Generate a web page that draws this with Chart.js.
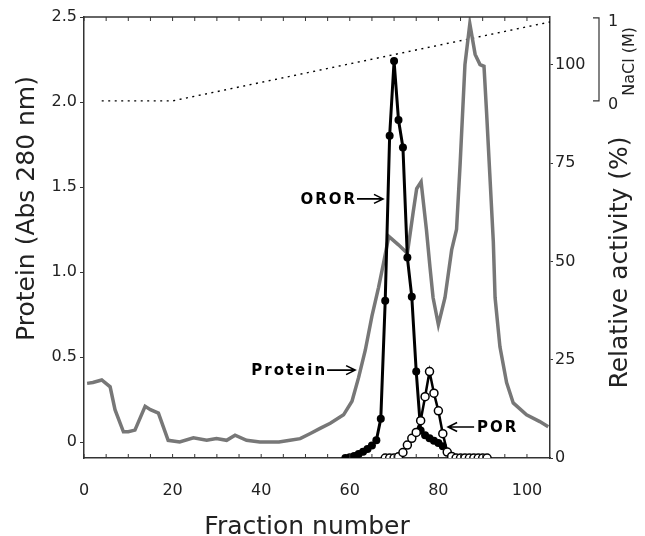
<!DOCTYPE html>
<html>
<head>
<meta charset="utf-8">
<script src="https://cdn.jsdelivr.net/npm/chart.js@4/dist/chart.umd.min.js"></script>
<style>
html, body { margin: 0; padding: 0; background: #fff; }
</style>
</head>
<body>
<canvas id="elutionChart" width="645" height="536"></canvas>
<script>
// tick labels
const fractionTicks = [0, 20, 40, 60, 80, 100];
const proteinTicks = [0, 0.5, 1.0, 1.5, 2.0, 2.5];
const activityTicks = [0, 25, 50, 75, 100];

// protein (Abs 280 nm)
const proteinFraction = [0.7, 2, 4, 5.9, 7, 8.9, 10, 11.5, 13.8, 15, 16.8, 19, 21.6, 24.7, 27.7, 29.9, 32.2, 34.1, 36.7, 39.7,
    44, 46.5, 48.8, 51.1, 53.3, 55.6, 58.6, 60.5, 62, 63.5, 65, 66.5, 67.6, 68.8, 71, 73, 74.3, 75.1, 76.1, 77.3,
    78.1, 78.8, 80, 81.5, 83, 84.1, 84.9, 86, 87.1, 88.3, 89.4, 90.3, 90.9, 91.6, 92.4, 92.8, 93.9, 95.4, 96.9, 99.9,
    102.9, 104.8];
const proteinAbs = [0.345, 0.35, 0.365, 0.325, 0.19, 0.06, 0.06, 0.07, 0.21, 0.19, 0.17, 0.01, 0, 0.025, 0.01, 0.02, 0.01, 0.04, 0.01, 0,
    0, 0.01, 0.02, 0.05, 0.08, 0.11, 0.16, 0.24, 0.38, 0.54, 0.74, 0.91, 1.05, 1.21, 1.16, 1.11, 1.35, 1.49, 1.53, 1.25,
    1.03, 0.85, 0.69, 0.85, 1.13, 1.25, 1.63, 2.22, 2.46, 2.28, 2.22, 2.21, 1.93, 1.58, 1.18, 0.85, 0.56, 0.35, 0.23, 0.16,
    0.12, 0.09];

// OROR relative activity (%)
const ororFraction = [59, 60, 61, 62, 63, 64, 65, 66, 67, 68, 69, 70, 71, 72, 73, 74, 75, 76, 77, 78, 79, 80, 81];
const ororActivity = [0, 0.2, 0.5, 1.0, 1.6, 2.3, 3.2, 4.5, 10, 40, 82, 101, 86, 79, 51, 41, 22, 7, 5.8, 5, 4.4, 3.8, 3];

// POR relative activity (%)
const porFraction = [68, 69, 70, 71, 72, 73, 74, 75, 76, 77, 78, 79, 80, 81, 82, 83, 84, 85, 86, 87, 88, 89, 90, 91];
const porActivity = [0, 0, 0, 0.3, 1.4, 3.3, 5, 6.5, 9.5, 15.6, 22, 16.5, 12, 6.2, 1.5, 0.4, 0, 0, 0, 0, 0, 0, 0, 0];

// NaCl gradient (M)
const naclFraction = [4, 20, 105.2];
const naclMolar = [0, 0, 0.95];

const toPoints = (xs, ys) => xs.map((x, i) => ({ x: x, y: ys[i] }));

const inkColor = "#222";
const axisColor = "#333";

// =======================
// Extras: frame, inner ticks, titles, NaCl scale, labels
// =======================

function drawArrow(ctx, fromX, toX, y) {
    const dir = Math.sign(toX - fromX);
    ctx.beginPath();
    ctx.moveTo(fromX, y);
    ctx.lineTo(toX, y);
    ctx.moveTo(toX - dir * 9, y - 4.5);
    ctx.lineTo(toX, y);
    ctx.lineTo(toX - dir * 9, y + 4.5);
    ctx.stroke();
}

const extrasPlugin = {
    id: "extras",
    afterDraw(chart) {
        const ctx = chart.ctx;
        const area = chart.chartArea;
        const sx = chart.scales.x;
        const yl = chart.scales.y;
        const yr = chart.scales.y1;
        const yn = chart.scales.yN;

        ctx.save();
        ctx.strokeStyle = axisColor;
        ctx.fillStyle = inkColor;

        // top frame
        ctx.lineWidth = 1.5;
        ctx.beginPath();
        ctx.moveTo(area.left, area.top);
        ctx.lineTo(area.right, area.top);
        ctx.stroke();

        // inward ticks top and bottom
        ctx.lineWidth = 1;
        sx.ticks.forEach(t => {
            const px = sx.getPixelForValue(t.value);
            ctx.beginPath();
            ctx.moveTo(px, area.bottom);
            ctx.lineTo(px, area.bottom - 4);
            ctx.moveTo(px, area.top);
            ctx.lineTo(px, area.top + 4);
            ctx.stroke();
        });

        // axis titles
        ctx.font = '25px "DejaVu Sans"';
        ctx.textAlign = "center";
        ctx.textBaseline = "alphabetic";
        ctx.fillText("Fraction number", (area.left + area.right) / 2 - 10, 534);

        ctx.save();
        ctx.translate(34, (area.top + area.bottom) / 2 - 29);
        ctx.rotate(-Math.PI / 2);
        ctx.fillText("Protein (Abs 280 nm)", 0, 0);
        ctx.restore();

        ctx.save();
        ctx.translate(area.right + 77, (area.top + area.bottom) / 2 + 25);
        ctx.rotate(-Math.PI / 2);
        ctx.fillText("Relative activity (%)", 0, 0);
        ctx.restore();

        // NaCl scale
        const nx = area.right + 49;
        const n0 = yn.getPixelForValue(0);
        const n1 = yn.getPixelForValue(1);
        ctx.lineWidth = 1.2;
        ctx.beginPath();
        ctx.moveTo(nx - 6, n1);
        ctx.lineTo(nx, n1);
        ctx.lineTo(nx, n0);
        ctx.lineTo(nx - 6, n0);
        ctx.stroke();
        ctx.font = '16px "DejaVu Sans"';
        ctx.textAlign = "left";
        ctx.textBaseline = "middle";
        ctx.fillText("1", nx + 9, n1 + 4);
        ctx.fillText("0", nx + 9, n0 + 4);
        ctx.save();
        ctx.translate(nx + 35, (n0 + n1) / 2 + 2);
        ctx.rotate(-Math.PI / 2);
        ctx.textAlign = "center";
        ctx.textBaseline = "alphabetic";
        ctx.fillText("NaCl (M)", 0, 0);
        ctx.restore();

        // curve labels
        ctx.strokeStyle = "#000";
        ctx.fillStyle = "#000";
        ctx.lineWidth = 1.6;
        ctx.font = 'bold 15px "DejaVu Sans"';
        ctx.letterSpacing = "2px";
        ctx.textBaseline = "middle";

        let tipX = sx.getPixelForValue(67.5);
        let tipY = yl.getPixelForValue(1.43);
        drawArrow(ctx, tipX - 26, tipX, tipY);
        ctx.textAlign = "right";
        ctx.fillText("OROR", tipX - 26, tipY + 1);

        tipX = sx.getPixelForValue(61.2);
        tipY = yl.getPixelForValue(0.423);
        drawArrow(ctx, tipX - 28, tipX, tipY);
        ctx.fillText("Protein", tipX - 28, tipY + 1);

        tipX = sx.getPixelForValue(82.2);
        tipY = yr.getPixelForValue(7.9);
        drawArrow(ctx, tipX + 26, tipX, tipY);
        ctx.textAlign = "left";
        ctx.fillText("POR", tipX + 29, tipY + 1);

        ctx.restore();
    }
};

// =======================
// Chart
// =======================

const tickFont = { family: "DejaVu Sans", size: 16 };

new Chart(document.getElementById("elutionChart"), {
    type: "line",
    data: {
        datasets: [{
            label: "POR",
            data: toPoints(porFraction, porActivity),
            yAxisID: "y1",
            order: 1,
            borderColor: "#000",
            borderWidth: 2.5,
            pointRadius: 4,
            pointBorderWidth: 1.5,
            pointBorderColor: "#000",
            pointBackgroundColor: "#fff"
        }, {
            label: "OROR",
            data: toPoints(ororFraction, ororActivity),
            yAxisID: "y1",
            order: 2,
            borderColor: "#000",
            borderWidth: 3,
            pointRadius: 4,
            pointBorderWidth: 0,
            pointBackgroundColor: "#000"
        }, {
            label: "Protein",
            data: toPoints(proteinFraction, proteinAbs),
            yAxisID: "y",
            order: 3,
            borderColor: "#777",
            borderWidth: 3.5,
            pointRadius: 0
        }, {
            label: "NaCl",
            data: toPoints(naclFraction, naclMolar),
            yAxisID: "yN",
            order: 4,
            borderColor: "#000",
            borderWidth: 1.4,
            borderDash: [2, 4.5],
            pointRadius: 0
        }]
    },
    options: {
        responsive: false,
        animation: false,
        devicePixelRatio: 1,
        layout: {
            padding: { top: 17, left: 0, right: 0, bottom: 0 }
        },
        plugins: {
            legend: { display: false },
            tooltip: { enabled: false }
        },
        scales: {
            x: {
                type: "linear",
                min: 0,
                max: 105.2,
                afterBuildTicks: s => { s.ticks = s.ticks.filter(t => t.value % 5 === 0); },
                afterFit: s => { s.height = 78; },
                ticks: {
                    stepSize: 5,
                    autoSkip: false,
                    maxRotation: 0,
                    padding: 15,
                    color: inkColor,
                    font: tickFont,
                    callback: v => fractionTicks.includes(v) ? String(v) : ""
                },
                grid: { display: false },
                border: { color: axisColor, width: 1.5 }
            },
            y: {
                type: "linear",
                position: "left",
                min: -0.094,
                max: 2.5,
                afterBuildTicks: s => { s.ticks = proteinTicks.map(v => ({ value: v })); },
                afterFit: s => { s.width = 84; },
                ticks: {
                    padding: 3,
                    color: inkColor,
                    font: tickFont,
                    callback: v => v === 0 ? "0" : v.toFixed(1)
                },
                grid: { drawOnChartArea: false, tickLength: 4, color: axisColor, lineWidth: 1 },
                border: { color: axisColor, width: 1.5 }
            },
            y1: {
                type: "linear",
                position: "right",
                min: 0,
                max: 112.2,
                afterBuildTicks: s => { s.ticks = activityTicks.map(v => ({ value: v })); },
                afterFit: s => { s.width = 95; },
                ticks: {
                    padding: 2,
                    color: inkColor,
                    font: tickFont,
                    callback: v => String(v)
                },
                grid: { drawOnChartArea: false, tickLength: 3, color: axisColor, lineWidth: 1 },
                border: { color: axisColor, width: 1.5 }
            },
            yN: {
                type: "linear",
                display: false,
                min: -4.3,
                max: 1.01
            }
        }
    },
    plugins: [extrasPlugin]
});
</script>
</body>
</html>
